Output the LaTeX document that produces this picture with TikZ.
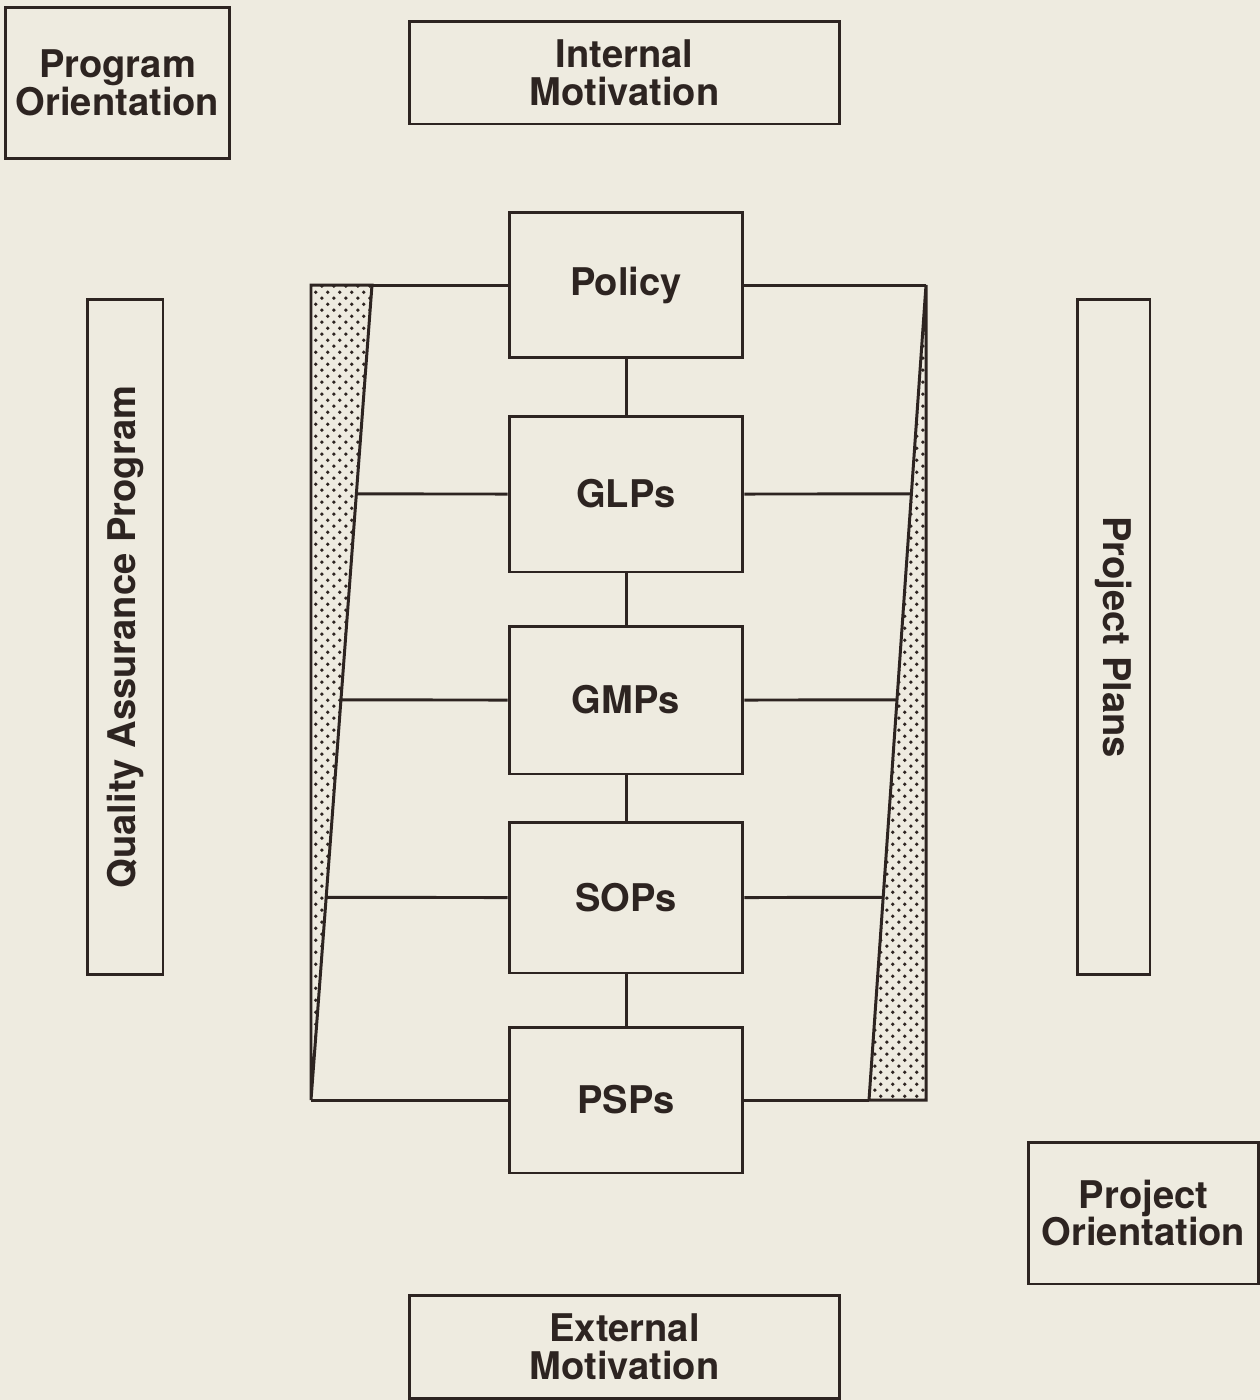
\documentclass[tikz,border=0pt]{standalone}
\usepackage{fontspec}
\setmainfont{TeX Gyre Heros}
\usetikzlibrary{patterns}

\definecolor{paper}{RGB}{238,235,224}
\definecolor{ink}{RGB}{45,36,33}

% staggered dot screen for the tapering wedges
\pgfdeclarepatternformonly{qadots}{\pgfpointorigin}{\pgfpoint{7pt}{7pt}}{\pgfpoint{7pt}{7pt}}{%
  \pgfpathcircle{\pgfpoint{1.75pt}{1.75pt}}{1.1pt}%
  \pgfpathcircle{\pgfpoint{5.25pt}{5.25pt}}{1.1pt}%
  \pgfusepath{fill}}

\tikzset{
  box/.style={draw=ink, line width=1.7pt, rectangle, align=center, inner sep=0pt,
    text=ink, font=\fontsize{21.7}{21.5}\selectfont\bfseries},
  link/.style={draw=ink, line width=1.7pt},
  wedge/.style={draw=ink, line width=1.7pt, line join=miter, pattern=qadots, pattern color=ink}
}

\begin{document}
\begin{tikzpicture}[x=0.02cm, y=-0.02cm]
  \fill[paper] (0,0) rectangle (1260,1400);
  \useasboundingbox (0,0) rectangle (1260,1400);

  % corner and edge labels
  \node[box, minimum width=4.5cm, minimum height=3.04cm] (prog) at (117.5,83) {Program\\Orientation};
  \node[box, minimum width=8.62cm, minimum height=2.06cm] (intm) at (624.5,72.5) {Internal\\Motivation};
  \node[box, minimum width=8.62cm, minimum height=2.06cm] (extm) at (624.5,1346.5) {External\\Motivation};
  \node[box, minimum width=4.62cm, minimum height=2.84cm] (projo) at (1143.5,1213) {Project\\Orientation};
  \node[box, rotate=90, minimum width=13.52cm, minimum height=1.52cm] (qap) at (125,637) {Quality Assurance Program};
  \node[box, rotate=-90, minimum width=13.52cm, minimum height=1.46cm] (plans) at (1113.5,637) {Project Plans};

  % central hierarchy
  \node[box, minimum width=4.68cm, minimum height=2.92cm] (policy) at (626,285) {Policy};
  \node[box, minimum width=4.68cm, minimum height=3.12cm] (glps) at (626,494) {GLPs};
  \node[box, minimum width=4.68cm, minimum height=2.96cm] (gmps) at (626,700) {GMPs};
  \node[box, minimum width=4.68cm, minimum height=3.02cm] (sops) at (626,897.5) {SOPs};
  \node[box, minimum width=4.68cm, minimum height=2.92cm] (psps) at (626,1100) {PSPs};

  \draw[link] (policy) -- (glps);
  \draw[link] (glps) -- (gmps);
  \draw[link] (gmps) -- (sops);
  \draw[link] (sops) -- (psps);

  % frame corners and wedge vertices
  \coordinate (LT) at (311,285);
  \coordinate (LTi) at (372,285);
  \coordinate (LB) at (311,1100);
  \coordinate (RT) at (926,285);
  \coordinate (RB) at (926,1100);
  \coordinate (RBi) at (869,1100);

  % shaded wedges
  \draw[wedge] (LT) -- (LTi) -- (LB) -- cycle;
  \draw[wedge] (RT) -- (RB) -- (RBi) -- cycle;

  % horizontal ties to the frame
  \draw[link] (policy.west) -- (LTi);
  \draw[link] (policy.east) -- (RT);
  \draw[link] (psps.west) -- (LB);
  \draw[link] (psps.east) -- (RBi);
  \foreach \n in {glps,gmps,sops}{
    \draw[link] (\n.west) -- (intersection of LTi--LB and \n.west--\n.east);
    \draw[link] (\n.east) -- (intersection of RT--RBi and \n.west--\n.east);
  }
\end{tikzpicture}
\end{document}
